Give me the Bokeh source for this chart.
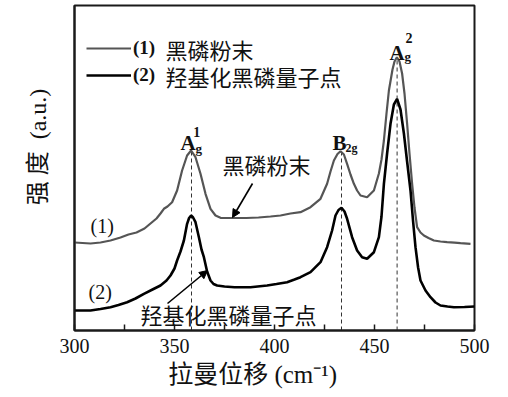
import math
from bokeh.plotting import figure
from bokeh.models import (Range1d, FixedTicker, Label, Legend, LegendItem,
                          Arrow, NormalHead, LinearAxis)
from bokeh.embed import file_html
from bokeh.resources import INLINE

# ---------------- data ----------------
# (1) black phosphorus powder
wn1 = [300.0, 304, 308, 313, 318, 323, 327, 331, 335, 338, 341, 343, 344.7, 346.5,
       348.8, 351.3, 353.8, 356.3, 358.3, 360.5, 363, 365.5, 368, 370.5, 373,
       378, 386, 392, 398, 403, 408, 413, 418, 423, 426.3, 428, 429.7, 431.5,
       433, 434.7, 436.3, 438, 439.7, 441.3, 443, 446.3, 449.7, 452.2, 453.5,
       454.7, 456, 457.2, 459, 460, 461.2, 462.5, 463.8, 465, 466.3, 467.5, 468.8,
       470, 471.3, 473, 474.7, 477, 479.7, 483, 486.3, 490, 493, 498]
int1 = [89, 88.5, 88, 89, 91, 94, 97, 99, 103, 108, 113, 118, 122.7, 125,
        129.3, 141, 161, 176, 181, 174.3, 157.7, 137.7, 122.7, 116, 113.7,
        113.5, 113.5, 114, 115, 116, 118, 119.3, 124.3, 132.7, 147.7, 160, 171, 177.5,
        180.3, 177, 167.7, 157, 147.7, 141, 136, 134.3, 141, 158, 172,
        191, 218, 241, 262, 270, 274.3, 270, 258, 238, 208, 178, 148,
        124, 104.3, 99, 96, 93.5, 91, 90, 89.3, 88.8, 88.3, 87.7]

# (2) hydroxylated black phosphorus quantum dots
wn2 = [300, 304, 308, 313, 318, 322, 326.3, 330.5, 334.7, 339, 343, 346, 348, 350,
       351.3, 353, 354.7, 356.3, 357.3, 358.3, 359.3, 360.5, 362.2, 363.5, 364.7,
       366.3, 368, 369.5, 371.3, 375, 380, 388, 396.3, 401, 406.3, 410, 413, 418,
       423, 426.3, 428.8, 430.5, 432, 433.5, 435, 436.3, 438.8, 441.3, 443.8, 446.3,
       449.7, 452.2, 453.5, 454.7, 456.3, 458, 459.7, 461.3, 463, 464.7, 466.3, 468,
       469.3, 470.5, 471.8, 473, 475.5, 478, 480.5, 483, 486.5, 489.7, 495, 500]
int2 = [21, 21, 21, 22.5, 24.3, 26.5, 29.3, 33, 37.7, 42, 46, 51, 56, 63,
        71, 80, 91, 107.7, 113.5, 116, 114, 109.3, 94.3, 82, 74.3,
        60, 51, 47.5, 46, 45, 44.3, 44.3, 46, 47.5, 49.3, 52, 54.3, 59.3,
        69.3, 84.3, 101, 116, 121.5, 123.7, 120, 112.7, 94.3, 81, 74.3, 72.7,
        79.3, 94.3, 115, 147.7, 178, 207.7, 227, 232.7, 222, 198, 170, 141,
        110, 84.3, 64, 51, 41, 34.3, 29, 26, 25, 24.3, 24.5, 25]

# Raman modes (peak positions, top of dashed guide)
peak_x = [358.5, 433.5, 461.3]
peak_top = [181, 181, 274.3]

x_ticks = [300, 350, 400, 450, 500]
x_minor = [325, 375, 425, 475]

legend_tags = ["(1)", "(2)"]
legend_names = ["黑磷粉末", "羟基化黑磷量子点"]

NB = "\u00a0"
x_title = "拉曼位移 (cm⁻¹)" + NB * 7
y_title = NB * 7 + "强 度" + NB * 2 + "(a.u.)"

SERIF = "Liberation Serif"
CJK = "Noto Sans CJK SC"
MIX = "Liberation Serif, Noto Sans CJK SC"
INK = "#111111"
FRAME = "#1a1a1a"

p = figure(width=508, height=397, output_backend="svg", toolbar_location=None,
           x_range=Range1d(300, 500), y_range=Range1d(1, 326),
           y_axis_location=None, min_border_left=74, min_border_right=34,
           min_border_top=5, min_border_bottom=67)
p.xgrid.visible = False
p.ygrid.visible = False
p.outline_line_color = FRAME
p.outline_line_width = 2
p.background_fill_color = "white"
p.border_fill_color = "white"

ax = p.xaxis[0]
ax.ticker = FixedTicker(ticks=x_ticks, minor_ticks=x_minor)
ax.axis_line_width = 2
ax.axis_line_color = FRAME
ax.major_tick_in = 6
ax.major_tick_out = 0
ax.minor_tick_in = 6
ax.minor_tick_out = 0
ax.major_tick_line_width = 1.5
ax.minor_tick_line_width = 1.5
ax.major_tick_line_color = FRAME
ax.minor_tick_line_color = FRAME
ax.major_label_text_font = SERIF
ax.major_label_text_font_size = "20px"
ax.major_label_text_color = INK
ax.major_label_standoff = 8
ax.axis_label = x_title
ax.axis_label_text_font = MIX
ax.axis_label_text_font_size = "25px"
ax.axis_label_text_font_style = "normal"
ax.axis_label_text_color = INK
ax.axis_label_standoff = 5

yax = LinearAxis(ticker=FixedTicker(ticks=[]), axis_line_color=FRAME, axis_line_width=2,
                 major_tick_in=0, major_tick_out=0, minor_tick_in=0, minor_tick_out=0,
                 axis_label=y_title, axis_label_text_font=MIX,
                 axis_label_text_font_size="24px", axis_label_text_font_style="normal",
                 axis_label_text_color=INK, axis_label_standoff=24)
p.add_layout(yax, "left")

# dashed guides
p.segment(x0=peak_x, y0=[1] * len(peak_x), x1=peak_x, y1=peak_top,
          line_color="#333333", line_width=1, line_dash="4 3")

r1 = p.line(wn1, int1, line_color="#555555", line_width=2.2)
r2 = p.line(wn2, int2, line_color="#000000", line_width=2.6)

legend = Legend(items=[LegendItem(label=legend_tags[0], renderers=[r1]),
                       LegendItem(label=legend_tags[1], renderers=[r2])],
                location=(12, 243), padding=0, margin=0, spacing=3,
                glyph_width=45, glyph_height=24, label_height=24, label_standoff=2,
                background_fill_alpha=0, border_line_alpha=0,
                label_text_font=SERIF, label_text_font_style="bold",
                label_text_font_size="19px", label_text_color=INK)
p.add_layout(legend)

def lab(text, x, y, size, font=SERIF, style="normal", units="data",
        align="left", baseline="alphabetic", angle=0.0):
    p.add_layout(Label(x=x, y=y, x_units=units, y_units=units, text=text,
                       text_font=font, text_font_size=size, text_font_style=style,
                       text_color=INK, text_align=align, text_baseline=baseline,
                       angle=angle))

# legend names
lab(legend_names[0], 91, 282, "22px", font=CJK, units="screen", baseline="middle")
lab(legend_names[1], 91, 255, "22px", font=CJK, units="screen", baseline="middle")

# peak labels
lab("A", 353, 189, "21px", style="bold")
lab("1", 359.4, 199.3, "14px", style="bold")
lab("g", 360.5, 183, "13px", style="bold")
lab("B", 429, 189, "21px", style="bold")
lab("2g", 435.5, 184, "12px", style="bold")
lab("A", 457.5, 279, "21px", style="bold")
lab("2", 465.5, 294, "14px", style="bold")
lab("g", 465, 275, "13px", style="bold")

# curve annotations
lab("(1)", 308, 106, "20px", baseline="middle")
lab("(2)", 307, 40, "20px", baseline="middle")
lab("黑磷粉末", 374, 168, "22px", font=CJK, baseline="middle")
lab("羟基化黑磷量子点", 333, 18, "22px", font=CJK, baseline="middle")

p.add_layout(Arrow(x_start=389, y_start=148, x_end=379, y_end=114,
                   line_width=1.6, line_color="black",
                   end=NormalHead(size=8, fill_color="black", line_color="black")))
p.add_layout(Arrow(x_start=346.5, y_start=28, x_end=366.5, y_end=61,
                   line_width=1.6, line_color="black",
                   end=NormalHead(size=8, fill_color="black", line_color="black")))

open("out.html", "w").write(file_html(p, INLINE))
